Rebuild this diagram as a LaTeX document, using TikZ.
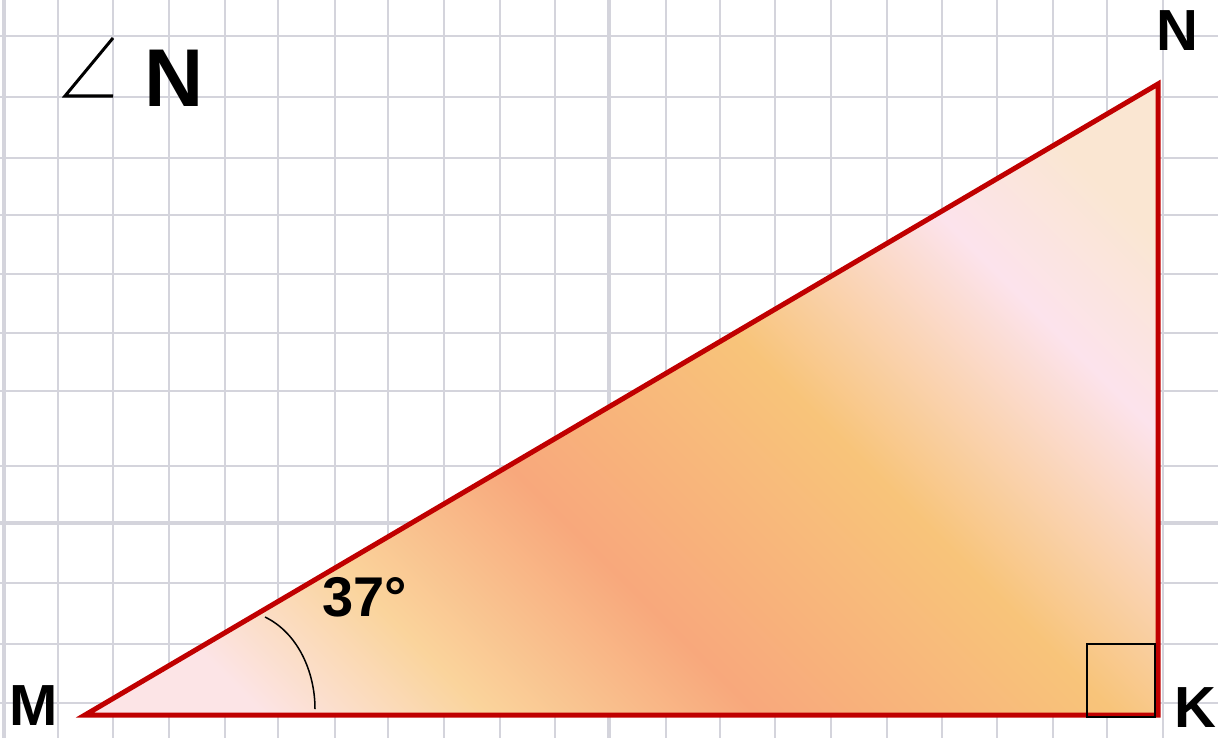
\documentclass[tikz,border=0pt]{standalone}
\usepackage{fontspec}
\setmainfont{Liberation Sans}
\usetikzlibrary{positioning,calc}

\definecolor{edgered}{HTML}{C00000}
\definecolor{gridgray}{HTML}{D4D4DC}
\definecolor{fillpink}{HTML}{FCE4E6}
\definecolor{fillyellow}{HTML}{FAD49C}
\definecolor{fillsalmon}{HTML}{F8A87C}
\definecolor{fillorange}{HTML}{F8C47A}
\definecolor{fillrose}{HTML}{FCE3EC}
\definecolor{fillbeige}{HTML}{FAE6D2}

\pgfdeclarehorizontalshading{trifill}{100bp}{color(0bp)=(fillpink); color(21.9bp)=(fillpink); color(31.2bp)=(fillyellow); color(42.5bp)=(fillsalmon); color(57.5bp)=(fillorange); color(71bp)=(fillrose); color(79bp)=(fillbeige); color(100bp)=(fillbeige)}

\begin{document}
\begin{tikzpicture}[x=0.5pt,y=-0.5pt]
  \tikzstyle{vertex} = [font=\bfseries\fontsize{29}{29}\selectfont, inner sep=0pt]
  \tikzstyle{gridline} = [gridgray, line width=1pt]
  \tikzstyle{side} = [draw=edgered, line width=2.5pt, line join=miter, shading=trifill, shading angle=45]
  \tikzstyle{mark line} = [black, line width=0.75pt]

  \useasboundingbox (0,0) rectangle (1218,738);

  % squared paper
  \foreach \x in {58,113,169,225,278,335,388,444,500,555,666,720,775,831,887,942,997,1053,1107,1163}
    \draw[gridline] (\x,0) -- (\x,738);
  \foreach \y in {36,97,158,215,274,333,391,466,583,644,703}
    \draw[gridline] (0,\y) -- (1218,\y);
  \draw[gridline, line width=1.6pt] (4,0) -- (4,738);
  \draw[gridline, line width=1.6pt] (609,0) -- (609,738);
  \draw[gridline, line width=1.6pt] (0,523) -- (1218,523);

  % triangle
  \coordinate (M) at (85,715);
  \coordinate (K) at (1158,715);
  \coordinate (N) at (1158,84);
  \shadedraw[side] (M) -- (K) -- (N) -- cycle;

  \draw[mark line] (1087,644) rectangle (1155,717);
  \draw[mark line] (265,617) .. controls (298,633) and (315,672) .. (315,709);

  \node[vertex] (labelN) at (1177,31) {N};
  \node[vertex] (labelM) at (34,706) {M};
  \node[vertex] (labelK) at (1195,708) {K};
  \node[vertex, font=\bfseries\fontsize{28}{28}\selectfont] (angle) at (365,597) {37°};

  % asked angle
  \draw[black, line width=1.5pt] (113,38) -- (65,96) -- (113,96);
  \node[vertex, font=\bfseries\fontsize{41}{41}\selectfont] (asked) at (174,78) {N};
\end{tikzpicture}
\end{document}
